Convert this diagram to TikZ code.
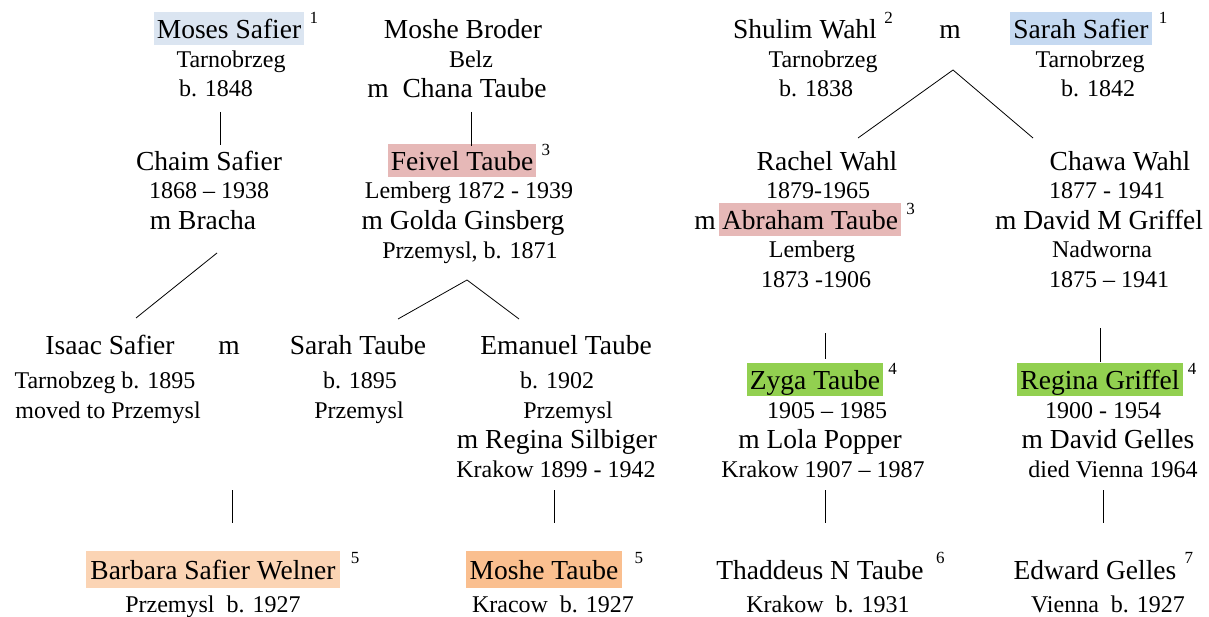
\documentclass[tikz,border=0pt]{standalone}
\usepackage{fontspec}
\setmainfont{Liberation Serif}
\usetikzlibrary{positioning}
\definecolor{mosesblue}{HTML}{DBE5F1}
\definecolor{sarahblue}{HTML}{C5D9F1}
\definecolor{taubepink}{HTML}{E6B8B7}
\definecolor{grandgreen}{HTML}{92D050}
\definecolor{peachlight}{HTML}{FBD4B4}
\definecolor{peachdark}{HTML}{FABF8F}

\begin{document}
\begin{tikzpicture}[x=1pt,y=-1pt,
    big/.style={font=\fontsize{27.5}{30}\selectfont,anchor=base,inner sep=0pt},
    small/.style={font=\fontsize{24}{28}\selectfont,anchor=base,inner sep=0pt},
    hl/.style={big,inner xsep=3pt,inner ysep=0.5pt,text height=26pt,text depth=6pt},
    hltall/.style={big,inner xsep=4pt,inner ysep=0.5pt,text height=28pt,text depth=8pt},
    sup/.style={font=\fontsize{17}{18}\selectfont,anchor=base west,inner sep=0pt},
    link/.style={line width=0.8pt}]
        \useasboundingbox (0,0) rectangle (1209,617);
        % first generation
        \node[hl,fill=mosesblue] (moses) at (229,39) {Moses Safier};
        \node[sup] (mosesN) at ([xshift=5pt,yshift=15pt]moses.base east) {1};
        \node[small] (mosesTown) at (231,68) {Tarnobrzeg};
        \node[small] (mosesBorn) at (216,97) {b. 1848};
        \node[big] (broder) at (463,39) {Moshe Broder};
        \node[small] (broderTown) at (471,68) {Belz};
        \node[big] (broderWife) at (457,98) {m\ \ Chana Taube};
        \node[big] (shulim) at (805,39) {Shulim Wahl};
        \node[sup] (shulimN) at ([xshift=7pt,yshift=15pt]shulim.base east) {2};
        \node[big] (wahlM) at (950,39) {m};
        \node[hl,fill=sarahblue] (sarahS) at (1081,39) {Sarah Safier};
        \node[sup] (sarahSN) at ([xshift=7pt,yshift=15pt]sarahS.base east) {1};
        \node[small] (shulimTown) at (823,68) {Tarnobrzeg};
        \node[small] (shulimBorn) at (816,97) {b. 1838};
        \node[small] (sarahSTown) at (1090,68) {Tarnobrzeg};
        \node[small] (sarahSBorn) at (1098,97) {b. 1842};
        % second generation
        \node[big] (chaim) at (209,171) {Chaim Safier};
        \node[small] (chaimDates) at (209,199) {1868 -- 1938};
        \node[big] (chaimWife) at (203,230) {m Bracha};
        \node[hl,fill=taubepink] (feivel) at (462,171) {Feivel Taube};
        \node[sup] (feivelN) at ([xshift=5pt,yshift=15pt]feivel.base east) {3};
        \node[small] (feivelDates) at (469,199) {Lemberg 1872 - 1939};
        \node[big] (feivelWife) at (463,230) {m Golda Ginsberg};
        \node[small] (feivelWifeFrom) at (470,259) {Przemysl, b. 1871};
        \node[big] (rachel) at (827,171) {Rachel Wahl};
        \node[small] (rachelDates) at (818,199) {1879-1965};
        \node[big] (rachelM) at (705,230) {m};
        \node[hl,fill=taubepink] (abraham) at (810,230) {Abraham Taube};
        \node[sup] (abrahamN) at ([xshift=5pt,yshift=15pt]abraham.base east) {3};
        \node[small] (abrahamTown) at (812,258) {Lemberg};
        \node[small] (abrahamDates) at (816,288) {1873 -1906};
        \node[big] (chawa) at (1120,171) {Chawa Wahl};
        \node[small] (chawaDates) at (1107,199) {1877 - 1941};
        \node[big] (chawaHusb) at (1099,230) {m David M Griffel};
        \node[small] (chawaHusbTown) at (1102,258) {Nadworna};
        \node[small] (chawaHusbDates) at (1109,288) {1875 -- 1941};
        % third generation
        \node[big] (isaac) at (110,354) {Isaac Safier};
        \node[big] (isaacM) at (229,354) {m};
        \node[small] (isaacBorn) at (105,388) {Tarnobzeg b. 1895};
        \node[small] (isaacMoved) at (108,418) {moved to Przemysl};
        \node[big] (sarahT) at (358,354) {Sarah Taube};
        \node[small] (sarahTBorn) at (360,388) {b. 1895};
        \node[small] (sarahTTown) at (359,418) {Przemysl};
        \node[big] (emanuel) at (566,354) {Emanuel Taube};
        \node[small] (emanuelBorn) at (557,388) {b. 1902};
        \node[small] (emanuelTown) at (568,418) {Przemysl};
        \node[big] (emanuelWife) at (557,448) {m Regina Silbiger};
        \node[small] (emanuelWifeDates) at (556,477) {Krakow 1899 - 1942};
        \node[hl,fill=grandgreen] (zyga) at (815,389) {Zyga Taube};
        \node[sup] (zygaN) at ([xshift=5pt,yshift=15pt]zyga.base east) {4};
        \node[small] (zygaDates) at (827,418) {1905 -- 1985};
        \node[big] (zygaWife) at (820,448) {m Lola Popper};
        \node[small] (zygaWifeDates) at (823,477) {Krakow 1907 -- 1987};
        \node[hl,fill=grandgreen] (regina) at (1100,389) {Regina Griffel};
        \node[sup] (reginaN) at ([xshift=5pt,yshift=15pt]regina.base east) {4};
        \node[small] (reginaDates) at (1103,418) {1900 - 1954};
        \node[big] (reginaHusb) at (1108,448) {m David Gelles};
        \node[small] (reginaHusbDied) at (1113,477) {died Vienna 1964};
        % fourth generation
        \node[hltall,fill=peachlight] (barbara) at (213,579) {Barbara Safier Welner};
        \node[sup] (barbaraN) at ([xshift=11pt,yshift=16pt]barbara.base east) {5};
        \node[small] (barbaraBorn) at (213,612) {Przemysl\ \ b. 1927};
        \node[hltall,fill=peachdark] (moshe) at (544,579) {Moshe Taube};
        \node[sup] (mosheN) at ([xshift=12pt,yshift=16pt]moshe.base east) {5};
        \node[small] (mosheBorn) at (553,612) {Kracow\ \ b. 1927};
        \node[big] (thaddeus) at (820,579) {Thaddeus N Taube};
        \node[sup] (thaddeusN) at ([xshift=12pt,yshift=16pt]thaddeus.base east) {6};
        \node[small] (thaddeusBorn) at (828,612) {Krakow\ \ b. 1931};
        \node[big] (edward) at (1095,579) {Edward Gelles};
        \node[sup] (edwardN) at ([xshift=8pt,yshift=16pt]edward.base east) {7};
        \node[small] (edwardBorn) at (1108,612) {Vienna\ \ b. 1927};
        % line ends
        \coordinate (mosesDown) at (220,112);
        \coordinate (chaimUp) at (220,145);
        \coordinate (broderDown) at (471,112);
        \coordinate (feivelUp) at (471,146);
        \coordinate (chaimDown) at (217,253);
        \coordinate (isaacUp) at (136,318);
        \coordinate (feivelFork) at (467,280);
        \coordinate (sarahTUp) at (398,319);
        \coordinate (emanuelUp) at (519,319);
        \coordinate (wahlFork) at (953,70);
        \coordinate (rachelUp) at (858,138);
        \coordinate (chawaUp) at (1033,138);
        \coordinate (rachelDown) at (825,333);
        \coordinate (zygaUp) at (825,359);
        \coordinate (chawaDown) at (1100,328);
        \coordinate (reginaUp) at (1100,362);
        \coordinate (isaacDown) at (232,490);
        \coordinate (barbaraUp) at (232,523);
        \coordinate (emanuelDown) at (554,490);
        \coordinate (mosheUp) at (554,523);
        \coordinate (zygaDown) at (825,490);
        \coordinate (thaddeusUp) at (825,523);
        \coordinate (reginaDown) at (1103,490);
        \coordinate (edwardUp) at (1103,523);
        \draw[link] (mosesDown) -- (chaimUp);
        \draw[link] (broderDown) -- (feivelUp);
        \draw[link] (chaimDown) -- (isaacUp);
        \draw[link] (sarahTUp) -- (feivelFork) -- (emanuelUp);
        \draw[link] (rachelUp) -- (wahlFork) -- (chawaUp);
        \draw[link] (rachelDown) -- (zygaUp);
        \draw[link] (chawaDown) -- (reginaUp);
        \draw[link] (isaacDown) -- (barbaraUp);
        \draw[link] (emanuelDown) -- (mosheUp);
        \draw[link] (zygaDown) -- (thaddeusUp);
        \draw[link] (reginaDown) -- (edwardUp);
    \end{tikzpicture}
\end{document}
